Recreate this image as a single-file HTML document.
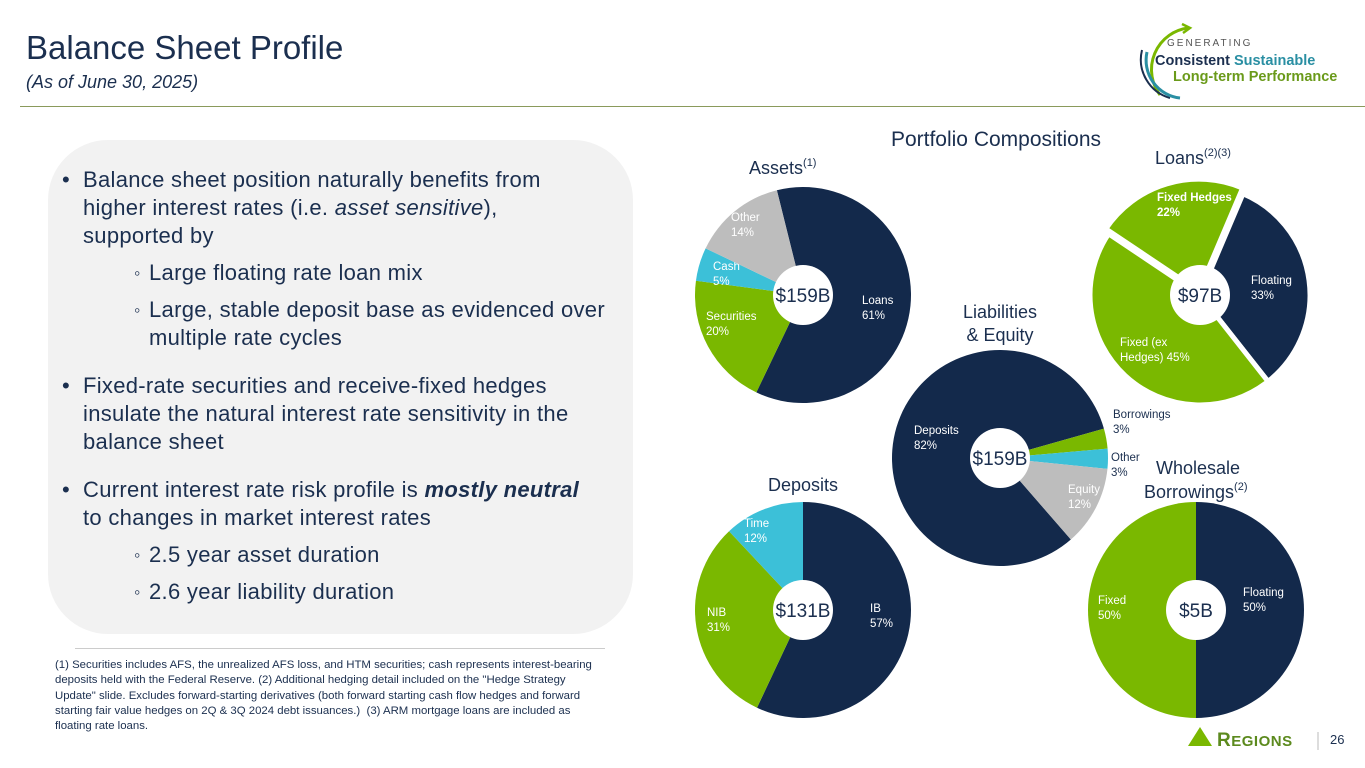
<!DOCTYPE html>
<html><head><meta charset="utf-8">
<style>
body{margin:0;width:1365px;height:768px;overflow:hidden;background:#fff;font-family:"Liberation Sans",sans-serif;position:relative}
.abs{position:absolute}
#title{left:26px;top:29px;font-size:33px;color:#1b2f4f}
#sub{left:26px;top:72px;font-size:18px;font-style:italic;color:#1b2f4f}
#rule{left:20px;top:106px;width:1345px;height:1px;background:#8a9a5b}
#panel{left:48px;top:140px;width:585px;height:494px;background:#f2f2f2;border-radius:60px}
.t{position:absolute;font-size:22px;letter-spacing:0.3px;color:#1b2f4f;white-space:nowrap;line-height:28px}
#foot{left:55px;top:658px;font-size:11.4px;line-height:15.3px;color:#1b2f4f;white-space:nowrap}
#footrule{left:75px;top:648px;width:530px;height:1px;background:#ccc}
svg text{font-family:"Liberation Sans",sans-serif}
</style></head><body>
<div class="abs" id="title">Balance Sheet Profile</div>
<div class="abs" id="sub">(As of June 30, 2025)</div>
<div class="abs" id="rule"></div>

<div class="abs" style="left:1130px;top:20px;width:235px;height:80px">
<svg width="235" height="80">
<path d="M58 8 A42 42 0 0 0 30 75" fill="none" stroke="#7ab800" stroke-width="3"/>
<path d="M52 4 L60 8 L53 13" fill="none" stroke="#7ab800" stroke-width="2.5"/>
<path d="M12 30 A40 40 0 0 0 40 78" fill="none" stroke="#1b2f4f" stroke-width="2"/>
<path d="M17 32 A38 38 0 0 0 50 78" fill="none" stroke="#2a8fa3" stroke-width="3"/>
<text x="37" y="26" font-size="10" fill="#555" letter-spacing="2">GENERATING</text>
<text x="25" y="45" font-size="14.5" font-weight="bold" fill="#1b2f4f">Consistent <tspan fill="#2a8fa3">Sustainable</tspan></text>
<text x="43" y="61" font-size="14.5" font-weight="bold" fill="#6a9a1a">Long-term Performance</text>
</svg></div>

<div class="abs" id="panel"></div>
<div>
<div class="t" style="left:62px;top:166px">•</div>
<div class="t" style="left:83px;top:166px">Balance sheet position naturally benefits from</div>
<div class="t" style="left:83px;top:194px">higher interest rates (i.e. <i>asset sensitive</i>),</div>
<div class="t" style="left:83px;top:222px">supported by</div>
<div class="t" style="left:134px;top:259px;font-size:18px">◦</div>
<div class="t" style="left:149px;top:259px">Large floating rate loan mix</div>
<div class="t" style="left:134px;top:296px;font-size:18px">◦</div>
<div class="t" style="left:149px;top:296px">Large, stable deposit base as evidenced over</div>
<div class="t" style="left:149px;top:324px">multiple rate cycles</div>
<div class="t" style="left:62px;top:372px">•</div>
<div class="t" style="left:83px;top:372px">Fixed-rate securities and receive-fixed hedges</div>
<div class="t" style="left:83px;top:400px">insulate the natural interest rate sensitivity in the</div>
<div class="t" style="left:83px;top:428px">balance sheet</div>
<div class="t" style="left:62px;top:476px">•</div>
<div class="t" style="left:83px;top:476px">Current interest rate risk profile is <b><i>mostly neutral</i></b></div>
<div class="t" style="left:83px;top:504px">to changes in market interest rates</div>
<div class="t" style="left:134px;top:541px;font-size:18px">◦</div>
<div class="t" style="left:149px;top:541px">2.5 year asset duration</div>
<div class="t" style="left:134px;top:578px;font-size:18px">◦</div>
<div class="t" style="left:149px;top:578px">2.6 year liability duration</div>
</div>
<div class="abs" id="footrule"></div>
<div class="abs" id="foot">(1) Securities includes AFS, the unrealized AFS loss, and HTM securities; cash represents interest-bearing<br>deposits held with the Federal Reserve. (2) Additional hedging detail included on the "Hedge Strategy<br>Update" slide. Excludes forward-starting derivatives (both forward starting cash flow hedges and forward<br>starting fair value hedges on 2Q &amp; 3Q 2024 debt issuances.)&nbsp; (3) ARM mortgage loans are included as<br>floating rate loans.</div>

<svg id="charts" class="abs" style="left:0;top:0" width="1365" height="768">
<text x="996" y="146" font-size="21" fill="#1b2f4f" text-anchor="middle">Portfolio Compositions</text>
<text x="749" y="174" font-size="18" fill="#1b2f4f">Assets<tspan font-size="11" dy="-8">(1)</tspan></text>
<text x="1155" y="164" font-size="18" fill="#1b2f4f">Loans<tspan font-size="11" dy="-8">(2)(3)</tspan></text>
<text x="1000" y="318" font-size="18" fill="#1b2f4f" text-anchor="middle">Liabilities</text>
<text x="1000" y="341" font-size="18" fill="#1b2f4f" text-anchor="middle">&amp; Equity</text>
<text x="803" y="491" font-size="18" fill="#1b2f4f" text-anchor="middle">Deposits</text>
<text x="1198" y="474" font-size="18" fill="#1b2f4f" text-anchor="middle">Wholesale</text>
<text x="1144" y="498" font-size="18" fill="#1b2f4f">Borrowings<tspan font-size="11" dy="-8">(2)</tspan></text>
<g id="pies"></g>
<text x="1330" y="744" font-size="13" fill="#1b2f4f">26</text>
<line x1="1318" y1="732" x2="1318" y2="750" stroke="#bbb" stroke-width="1"/>
<polygon points="1188,746 1200,727 1212,746" fill="#7ab800"/>
<text x="1217" y="746" font-size="19" font-family="Liberation Serif" fill="#5c8a1e" font-weight="bold" letter-spacing="0.5">R<tspan font-size="15">EGIONS</tspan></text>
</svg>

<script>
// Assets
const assetLabels=["Loans","Securities","Cash","Other"];
const assetValues=[61,20,5,14];
// Loans
const loanLabels=["Floating","Fixed (ex Hedges)","Fixed Hedges"];
const loanValues=[33,45,22];
// Liabilities & Equity
const liabLabels=["Deposits","Borrowings","Other","Equity"];
const liabValues=[82,3,3,12];
// Deposits
const depLabels=["IB","NIB","Time"];
const depValues=[57,31,12];
// Wholesale borrowings
const wbLabels=["Floating","Fixed"];
const wbValues=[50,50];
const totals=["$159B","$97B","$159B","$131B","$5B"];

const NAVY="#13294b",GREEN="#7ab800",CYAN="#3cc0d8",GRAY="#bdbdbd";
const NS="http://www.w3.org/2000/svg";
const g=document.getElementById('pies');
function pt(cx,cy,r,deg){const a=(deg-90)*Math.PI/180;return [cx+r*Math.cos(a),cy+r*Math.sin(a)];}
function pie(name,cx,cy,r,startDeg,values,labels,colors,labelPos,total,explode){
  const sum=values.reduce((a,b)=>a+b,0);
  let a=startDeg;
  values.forEach((v,i)=>{
    const span=v/sum*360,a2=a+span;
    let ox=0,oy=0,rr=r;
    if(explode===i){const m=pt(0,0,4,a+span/2);ox=m[0];oy=m[1];rr=r+2;}
    const p1=pt(cx+ox,cy+oy,rr,a),p2=pt(cx+ox,cy+oy,rr,a2);
    const path=document.createElementNS(NS,'path');
    path.setAttribute('d',`M${cx+ox},${cy+oy} L${p1[0]},${p1[1]} A${rr},${rr} 0 ${span>180?1:0} 1 ${p2[0]},${p2[1]} Z`);
    path.setAttribute('fill',colors[i]);
    if(explode!==undefined){path.setAttribute('stroke','#fff');path.setAttribute('stroke-width','5');}
    
    
    g.appendChild(path);
    const lp=labelPos[i];
    const t=document.createElementNS(NS,'text');
    t.setAttribute('x',lp[0]);t.setAttribute('y',lp[1]);
    t.setAttribute('font-size','11.5');
    t.setAttribute('fill',lp[3]||'#fff');
    if(lp[4])t.setAttribute('font-weight','bold');
    
    
    const lines=(lp[2]||labels[i]+'|'+v+'%').split('|');
    lines.forEach((s,k)=>{const ts=document.createElementNS(NS,'tspan');ts.setAttribute('x',lp[0]);ts.setAttribute('dy',k?15:0);ts.textContent=s;t.appendChild(ts);});
    g.appendChild(t);
    a=a2;
  });
  const c=document.createElementNS(NS,'circle');
  c.setAttribute('cx',cx);c.setAttribute('cy',cy);c.setAttribute('r',30);c.setAttribute('fill','#fff');
  
  
  g.appendChild(c);
  const tt=document.createElementNS(NS,'text');
  tt.setAttribute('x',cx);tt.setAttribute('y',cy+7);tt.setAttribute('text-anchor','middle');
  tt.setAttribute('font-size','19');tt.setAttribute('fill','#1b2f4f');tt.textContent=total;
  
  
  g.appendChild(tt);
}
pie('assets',803,295,108,-14,assetValues,assetLabels,[NAVY,GREEN,CYAN,GRAY],
 [[862,304],[706,320],[713,270],[731,221]],totals[0]);
pie('liabilities',1000,458,108,139,liabValues,liabLabels,[NAVY,GREEN,CYAN,GRAY],
 [[914,434],[1113,418,null,'#1b2f4f'],[1111,461,null,'#1b2f4f'],[1068,493]],totals[2]);
pie('loans',1200,295,110,23,loanValues,loanLabels,[NAVY,GREEN,GREEN],
 [[1251,284],[1120,346,'Fixed (ex|Hedges) '+loanValues[1]+'%'],[1157,201,null,'#fff',true]],totals[1],2);
pie('deposits',803,610,108,0,depValues,depLabels,[NAVY,GREEN,CYAN],
 [[870,612],[707,616],[744,527]],totals[3]);
pie('wholesale',1196,610,108,0,wbValues,wbLabels,[NAVY,GREEN],
 [[1243,596],[1098,604]],totals[4]);
</script>
</body></html>
